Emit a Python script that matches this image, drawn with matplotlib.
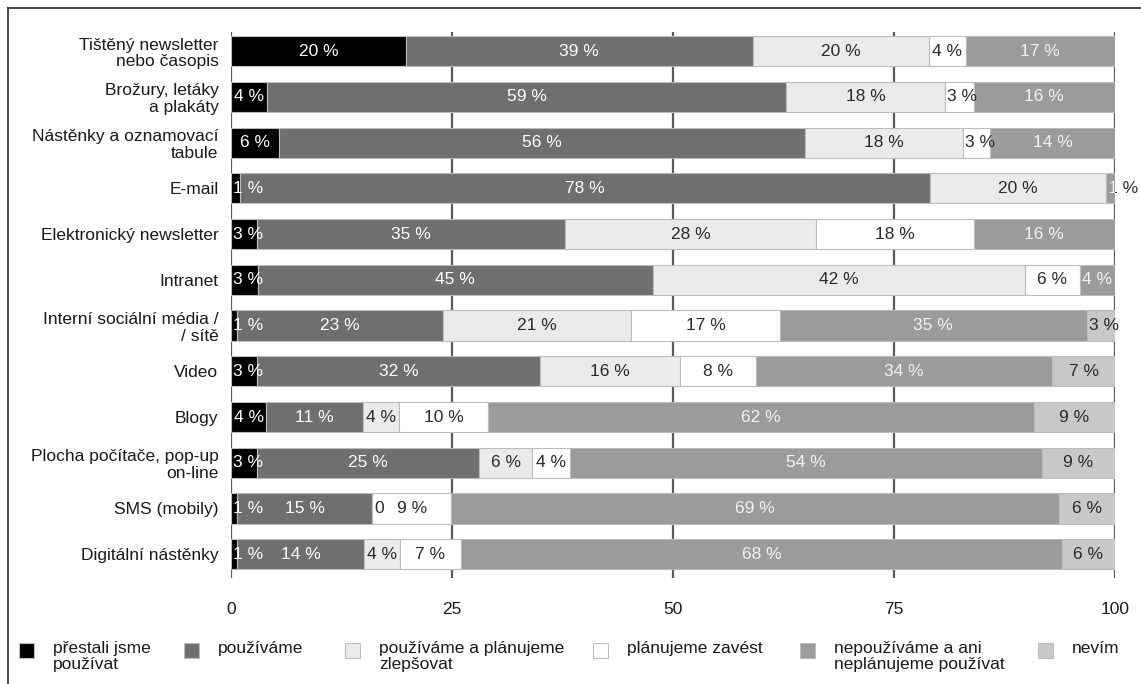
import matplotlib
matplotlib.use('Agg')
import matplotlib.pyplot as plt
from matplotlib.patches import Rectangle
from matplotlib.lines import Line2D

plt.rcParams['font.family'] = ['Liberation Sans', 'DejaVu Sans']

categories = ['Tištěný newsletter\nnebo časopis', 'Brožury, letáky\na plakáty',
              'Nástěnky a oznamovací\ntabule', 'E-mail', 'Elektronický newsletter',
              'Intranet', 'Interní sociální média /\n/ sítě', 'Video', 'Blogy',
              'Plocha počítače, pop-up\non-line', 'SMS (mobily)', 'Digitální nástěnky']

series = ['přestali jsme\npoužívat', 'používáme', 'používáme a plánujeme\nzlepšovat',
          'plánujeme zavést', 'nepoužíváme a ani\nneplánujeme používat', 'nevím']

# segment widths as drawn in the picture (percent)
stopped  = [19.8, 4.1, 5.4, 1.0, 2.9, 3.0, 0.7, 2.9, 4.0, 2.9, 0.7, 0.7]
using    = [39.2, 58.7, 59.5, 78.1, 34.9, 44.7, 23.3, 32.1, 10.9, 25.2, 15.3, 14.4]
improve  = [20.0, 18.0, 17.9, 19.9, 28.4, 42.1, 21.3, 15.8, 4.1, 6.0, 0.0, 4.0]
planning = [4.1, 3.2, 3.1, 0.0, 17.8, 6.2, 16.8, 8.6, 10.1, 4.2, 8.9, 6.9]
notusing = [16.9, 16.0, 14.1, 1.0, 16.0, 4.0, 34.7, 33.5, 61.7, 53.4, 68.8, 68.0]
unknown  = [0.0, 0.0, 0.0, 0.0, 0.0, 0.0, 3.2, 7.1, 9.2, 8.3, 6.3, 6.0]

# printed labels
stopped_lbl  = ['20', '4', '6', '1', '3', '3', '1', '3', '4', '3', '1', '1']
using_lbl    = ['39', '59', '56', '78', '35', '45', '23', '32', '11', '25', '15', '14']
improve_lbl  = ['20', '18', '18', '20', '28', '42', '21', '16', '4', '6', '0', '4']
planning_lbl = ['4', '3', '3', '', '18', '6', '17', '8', '10', '4', '9', '7']
notusing_lbl = ['17', '16', '14', '1', '16', '4', '35', '34', '62', '54', '69', '68']
unknown_lbl  = ['', '', '', '', '', '', '3', '7', '9', '9', '6', '6']

widths = [stopped, using, improve, planning, notusing, unknown]
labels = [stopped_lbl, using_lbl, improve_lbl, planning_lbl, notusing_lbl, unknown_lbl]
colors = ['#000000', '#6f6f6f', '#ebebeb', '#ffffff', '#9b9b9b', '#c8c8c8']
txt_colors = ['white', 'white', '#2a2a2a', '#2a2a2a', '#f2f2f2', '#2a2a2a']

W, H = 1141, 684
fig = plt.figure(figsize=(W / 100, H / 100), dpi=100)
ax = fig.add_axes([231 / W, 1 - 578 / H, (1115 - 231) / W, (578 - 32) / H])

ypos = list(range(len(categories)))
for x in [0, 25, 50, 75, 100]:
    ax.axvline(x, color='#5a5a5a', lw=1.6, zorder=0)

left = [0.0] * len(categories)
for k in range(len(series)):
    ax.barh(ypos, widths[k], left=left, height=0.66, color=colors[k],
            edgecolor='#bdbdbd', linewidth=0.8, zorder=2)
    for i in ypos:
        lbl = labels[k][i]
        if lbl == '':
            continue
        txt = lbl + ' %' if lbl != '0' else '0'
        w = widths[k][i]
        if w < 3.8:
            x, ha = left[i] + 0.25, 'left'
        else:
            x, ha = left[i] + w / 2, 'center'
        overflow = ha == 'left' and left[i] + 3.7 > 100.5
        if overflow and txt_colors[k] != '#2a2a2a':
            ax.text(x, i, txt, ha=ha, va='center', fontsize=12.5, color='#2a2a2a',
                    zorder=3, clip_on=False)
            ax.text(x, i, txt, ha=ha, va='center', fontsize=12.5, color=txt_colors[k],
                    zorder=4, clip_on=True)
        else:
            ax.text(x, i, txt, ha=ha, va='center', fontsize=12.5, color=txt_colors[k],
                    zorder=4, clip_on=False)
        left[i] += w

ax.set_xlim(0, 100)
ax.set_ylim(11.52, -0.42)
ax.set_xticks([0, 25, 50, 75, 100])
ax.set_xticklabels(['0', '25', '50', '75', '100'])
ax.set_yticks(ypos)
ax.set_yticklabels(categories, linespacing=1.12)
ax.tick_params(axis='x', length=0, pad=17, labelsize=12.5, labelcolor='#1a1a1a')
ax.tick_params(axis='y', length=0, pad=9, labelsize=12.5, labelcolor='#1a1a1a')
for s in ax.spines.values():
    s.set_visible(False)

# legend
sq_x = [19, 184, 345, 593, 800, 1038]
for k in range(len(series)):
    fig.patches.append(Rectangle((sq_x[k] / W, 1 - 658 / H), 15 / W, 15 / H,
                                 transform=fig.transFigure, facecolor=colors[k],
                                 edgecolor='#bdbdbd', linewidth=0.8))
    fig.text((sq_x[k] + 34) / W, 1 - 641 / H, series[k], ha='left', va='top',
             fontsize=12.5, color='#1a1a1a', linespacing=1.12)

# frame lines at top and left
fig.add_artist(Line2D([8 / W, 1], [1 - 8 / H, 1 - 8 / H], color='#3a3a3a', lw=1.3,
                      transform=fig.transFigure))
fig.add_artist(Line2D([8 / W, 8 / W], [0, 1 - 8 / H], color='#3a3a3a', lw=1.3,
                      transform=fig.transFigure))

fig.savefig('out.png', dpi=100, facecolor='white')
